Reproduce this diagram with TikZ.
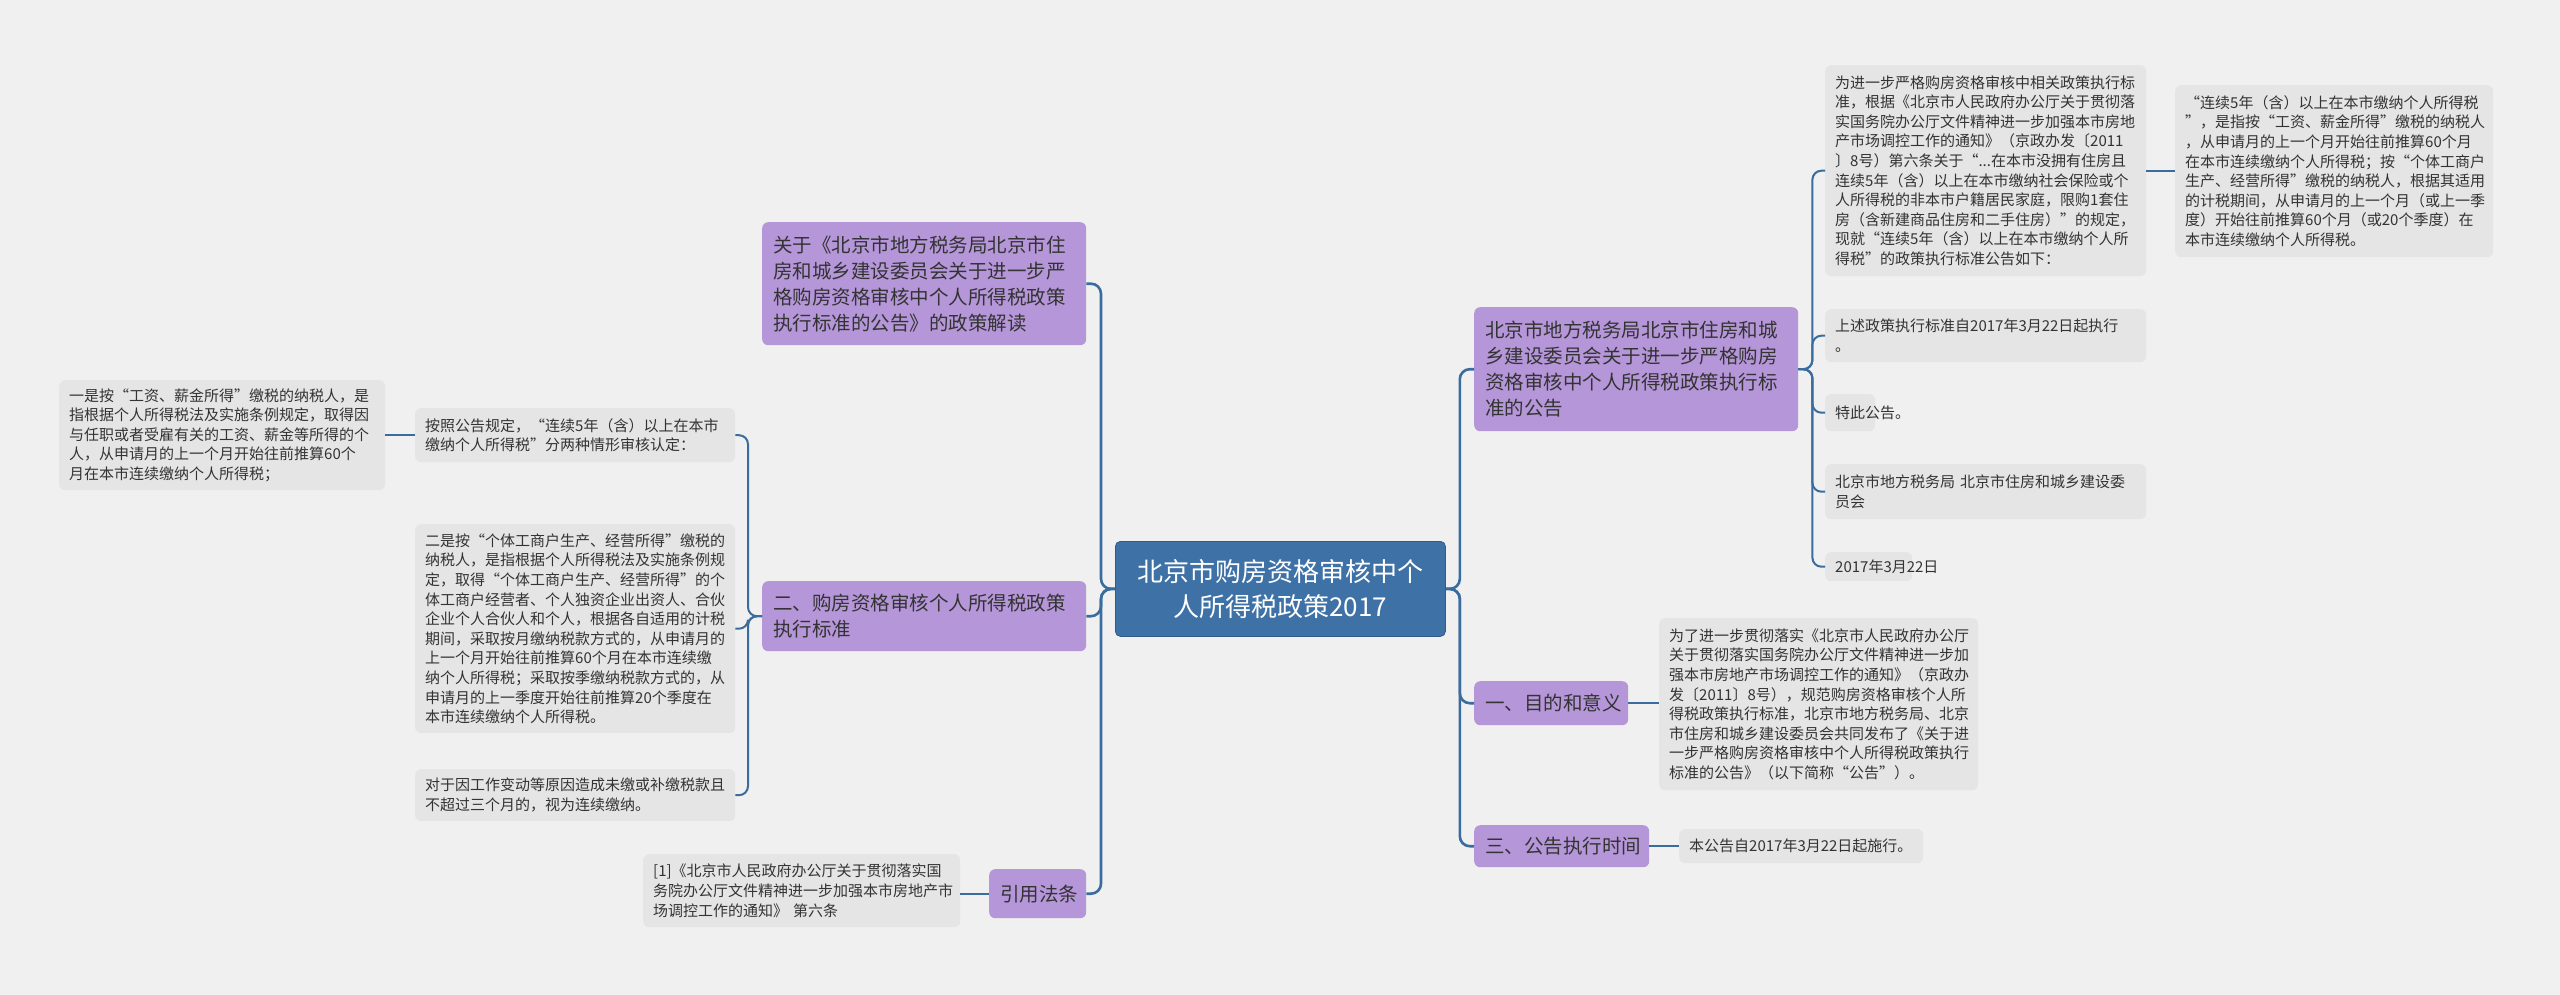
\documentclass[tikz,border=0pt]{standalone}
\usepackage{fontspec}
\setmainfont{Noto Sans CJK SC}
\definecolor{bgc}{HTML}{F0F0F0}
\definecolor{leafc}{HTML}{E5E5E5}
\definecolor{purp}{HTML}{B596D8}
\definecolor{cblue}{HTML}{3E72A6}
\definecolor{lnc}{HTML}{3A6D9E}
\definecolor{txt}{HTML}{333333}
\newcommand{\leaffont}{\fontsize{15pt}{19.6pt}\selectfont}
\newcommand{\lvfont}{\fontsize{19.5pt}{26pt}\selectfont}
\newcommand{\cfont}{\fontsize{26pt}{35pt}\selectfont}
\tikzset{
  leaf/.style={fill=leafc, rounded corners=6pt, text=txt, font=\leaffont, align=left, inner xsep=10pt, inner ysep=0pt, anchor=north west},
  lvone/.style={fill=purp, rounded corners=6pt, text=txt, font=\lvfont, align=left, inner xsep=11pt, inner ysep=0pt, anchor=north west},
  root/.style={fill=cblue, draw=cblue!80!black, line width=0.8pt, rounded corners=5pt, text=white, font=\cfont, align=center, inner sep=0pt, anchor=north west},
  conA/.style={draw=lnc, line width=2.6pt, rounded corners=10pt},
  conB/.style={draw=lnc, line width=2pt, rounded corners=9pt},
}
\begin{document}
\begin{tikzpicture}[x=1pt,y=-1pt]
\useasboundingbox (0,0) rectangle (2560,995);
\fill[bgc] (0,0) rectangle (2560,995);

% central
\node[root, minimum width=330pt, minimum height=95pt, text width=310pt] (c) at (1115,541) {北京市购房资格审核中个\\人所得税政策2017};

% right level 1
\node[lvone, minimum width=324pt, minimum height=124pt, text width=302pt] (r1) at (1474,307) {北京市地方税务局北京市住房和城\\乡建设委员会关于进一步严格购房\\资格审核中个人所得税政策执行标\\准的公告};
\node[lvone, minimum width=154pt, minimum height=44pt, text width=132pt] (r2) at (1474,681) {一、目的和意义};
\node[lvone, minimum width=175pt, minimum height=42pt, text width=153pt] (r3) at (1474,825) {三、公告执行时间};

% right leaves
\node[leaf, minimum width=321pt, minimum height=211pt, text width=301pt] (t1) at (1825,65) {为进一步严格购房资格审核中相关政策执行标\\准，根据《北京市人民政府办公厅关于贯彻落\\实国务院办公厅文件精神进一步加强本市房地\\产市场调控工作的通知》（京政办发〔2011\\〕8号）第六条关于“...在本市没拥有住房且\\连续5年（含）以上在本市缴纳社会保险或个\\人所得税的非本市户籍居民家庭，限购1套住\\房（含新建商品住房和二手住房）”的规定，\\现就“连续5年（含）以上在本市缴纳个人所\\得税”的政策执行标准公告如下：};
\node[leaf, minimum width=318pt, minimum height=172pt, text width=298pt] (t1a) at (2175,85) {“连续5年（含）以上在本市缴纳个人所得税\\”，是指按“工资、薪金所得”缴税的纳税人\\，从申请月的上一个月开始往前推算60个月\\在本市连续缴纳个人所得税；按“个体工商户\\生产、经营所得”缴税的纳税人，根据其适用\\的计税期间，从申请月的上一个月（或上一季\\度）开始往前推算60个月（或20个季度）在\\本市连续缴纳个人所得税。};
\node[leaf, minimum width=321pt, minimum height=53pt, text width=301pt] (t2) at (1825,309) {上述政策执行标准自2017年3月22日起执行\\。};
\node[leaf, minimum width=50pt, minimum height=37pt, text width=30pt] (t3) at (1825,394) {特此公告。};
\node[leaf, minimum width=321pt, minimum height=55pt, text width=301pt] (t4) at (1825,464) {北京市地方税务局 北京市住房和城乡建设委\\员会};
\node[leaf, minimum width=87pt, minimum height=29pt, text width=67pt] (t5) at (1825,552) {2017年3月22日};
\node[leaf, minimum width=319pt, minimum height=172pt, text width=299pt] (t6) at (1659,618) {为了进一步贯彻落实《北京市人民政府办公厅\\关于贯彻落实国务院办公厅文件精神进一步加\\强本市房地产市场调控工作的通知》（京政办\\发〔2011〕8号），规范购房资格审核个人所\\得税政策执行标准，北京市地方税务局、北京\\市住房和城乡建设委员会共同发布了《关于进\\一步严格购房资格审核中个人所得税政策执行\\标准的公告》（以下简称“公告”）。};
\node[leaf, minimum width=244pt, minimum height=34pt, text width=224pt] (t7) at (1679,829) {本公告自2017年3月22日起施行。};

% left level 1
\node[lvone, minimum width=324pt, minimum height=123pt, text width=302pt] (l1) at (762,222) {关于《北京市地方税务局北京市住\\房和城乡建设委员会关于进一步严\\格购房资格审核中个人所得税政策\\执行标准的公告》的政策解读};
\node[lvone, minimum width=324pt, minimum height=70pt, text width=302pt] (l2) at (762,581) {二、购房资格审核个人所得税政策\\执行标准};
\node[lvone, minimum width=97pt, minimum height=49pt, text width=75pt] (l3) at (989,869) {引用法条};

% left leaves
\node[leaf, minimum width=320pt, minimum height=54pt, text width=300pt] (s1) at (415,408) {按照公告规定，“连续5年（含）以上在本市\\缴纳个人所得税”分两种情形审核认定：};
\node[leaf, minimum width=326pt, minimum height=110pt, text width=306pt] (s1a) at (59,380) {一是按“工资、薪金所得”缴税的纳税人，是\\指根据个人所得税法及实施条例规定，取得因\\与任职或者受雇有关的工资、薪金等所得的个\\人，从申请月的上一个月开始往前推算60个\\月在本市连续缴纳个人所得税；};
\node[leaf, minimum width=320pt, minimum height=209pt, text width=300pt] (s2) at (415,524) {二是按“个体工商户生产、经营所得”缴税的\\纳税人，是指根据个人所得税法及实施条例规\\定，取得“个体工商户生产、经营所得”的个\\体工商户经营者、个人独资企业出资人、合伙\\企业个人合伙人和个人，根据各自适用的计税\\期间，采取按月缴纳税款方式的，从申请月的\\上一个月开始往前推算60个月在本市连续缴\\纳个人所得税；采取按季缴纳税款方式的，从\\申请月的上一季度开始往前推算20个季度在\\本市连续缴纳个人所得税。};
\node[leaf, minimum width=320pt, minimum height=52pt, text width=300pt] (s3) at (415,769) {对于因工作变动等原因造成未缴或补缴税款且\\不超过三个月的，视为连续缴纳。};
\node[leaf, minimum width=317pt, minimum height=73pt, text width=297pt] (s4) at (643,854) {[1]《北京市人民政府办公厅关于贯彻落实国\\务院办公厅文件精神进一步加强本市房地产市\\场调控工作的通知》 第六条};

% connectors: central to right
\foreach \n in {r1,r2,r3}
  \draw[conA] (c.east) -- ++(14,0) |- (\n.west);
% central to left
\foreach \n in {l1,l2,l3}
  \draw[conA] (c.west) -- ++(-14,0) |- (\n.east);
% r1 to leaves
\foreach \n in {t1,t2,t3,t4,t5}
  \draw[conB] (r1.east) -- ++(14,0) |- (\n.west);
\draw[conB] (t1.east) -- (t1a.west |- t1.east);
\draw[conB] (r2.east) -- (t6.west |- r2.east);
\draw[conB] (r3.east) -- (t7.west |- r3.east);
% l2 to leaves
\foreach \n in {s1,s2,s3}
  \draw[conB] (l2.west) -- ++(-14,0) |- (\n.east);
\draw[conB] (s1.west) -- (s1a.east |- s1.west);
\draw[conB] (l3.west) -- (s4.east |- l3.west);
\end{tikzpicture}
\end{document}
